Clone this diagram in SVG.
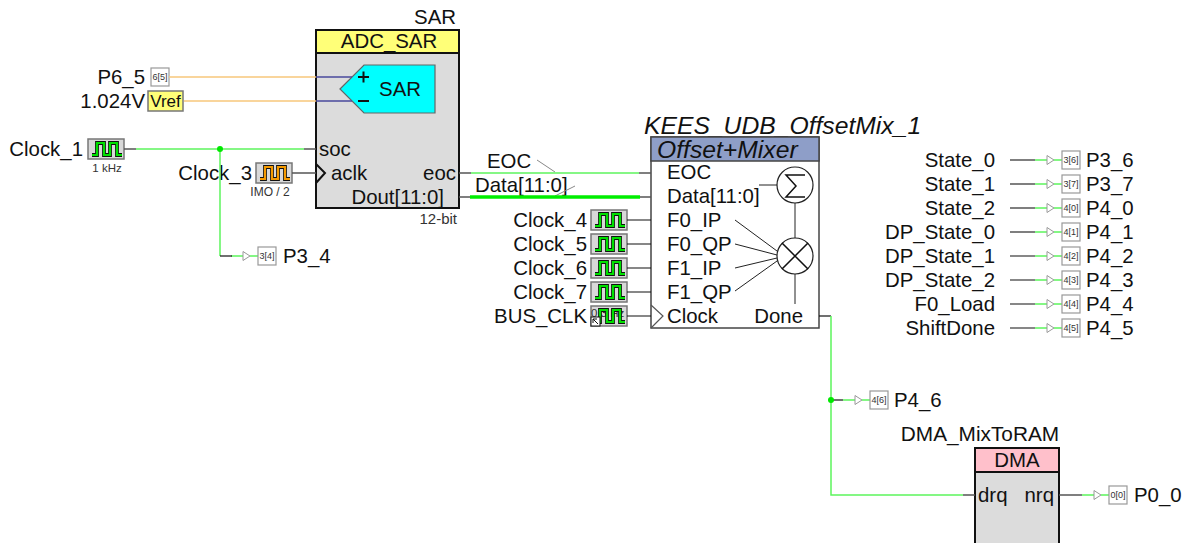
<svg xmlns="http://www.w3.org/2000/svg" width="1184" height="543" viewBox="0 0 1184 543">
<style>
text{font-family:"Liberation Sans",Arial,sans-serif;font-size:20.400px;fill:#111}
.e{text-anchor:end}.m{text-anchor:middle}
.s{fill:#333}.t{font-size:9px;fill:#333;text-anchor:middle}
.i{font-style:italic;font-size:24.700px}
.g{fill:none;stroke:#5cf55c;stroke-width:1.5}
.k{fill:none;stroke:#555;stroke-width:1.5}
.b{fill:none;stroke:#111;stroke-width:1.2}
.o{fill:none;stroke:#f8c77c;stroke-width:1.5}
.p{fill:none;stroke:#4a4a9c;stroke-width:1.5}
.blk{fill:#dcdcdc;stroke:#111;stroke-width:2}
.pin{fill:#fff;stroke:#999;stroke-width:1.2}
.tri{fill:#fff;stroke:#999;stroke-width:1}
.ck{fill:#d8d8d8;stroke:#777;stroke-width:1.5}
.w{fill:none;stroke:#111;stroke-width:3.800}
.wg{fill:none;stroke:#00e000;stroke-width:2.200}
.wo{fill:none;stroke:#f59a00;stroke-width:2.200}
</style>
<defs>
<g id="wave"><path class="w" d="M4 16H9V4H16V16H22V4H29V16H34"/><path class="wg" d="M4 16H9V4H16V16H22V4H29V16H34"/></g>
<g id="clk"><rect class="ck" x="0" y="0" width="36" height="20"/><use href="#wave"/></g>
<g id="clko"><rect class="ck" x="0" y="0" width="36" height="20"/><path class="w" d="M4 16H9V4H16V16H22V4H29V16H34"/><path class="wo" d="M4 16H9V4H16V16H22V4H29V16H34"/></g>
<g id="out"><path class="g" d="M-27 0H-15M-8 0H0"/><path class="tri" d="M-15 -4.500L-8 0L-15 4.500Z"/><rect class="pin" x="0" y="-9" width="18" height="18"/></g>
</defs>

<g id="SAR">
<text class="m" x="435" y="24">SAR</text>
<rect class="blk" x="316" y="30" width="143" height="178"/>
<rect x="316" y="30" width="143" height="23" fill="#ffff78" stroke="#111" stroke-width="2"/>
<text class="m" x="389" y="48">ADC_SAR</text>
<path d="M340 89L364 65H435V113H364Z" fill="#00ffff" stroke="#666" stroke-width="1.200"/>
<text class="m" x="400" y="96">SAR</text>
<path d="M358 77H369M363.500 71.500V82.500M358 101H369" stroke="#111" stroke-width="2" fill="none"/>
<text x="319" y="156">soc</text>
<path d="M316 164L325 173L316 183" fill="none" stroke="#111" stroke-width="2"/>
<text x="331" y="180">aclk</text>
<text class="e" x="456" y="180">eoc</text>
<text class="e" x="444" y="204">Dout[11:0]</text>
<text class="e s" x="457" y="224" style="font-size:15px">12-bit</text>
</g>

<g id="P6_5"><text class="e" x="145" y="84">P6_5</text><rect class="pin" x="151" y="68" width="18" height="18"/><text class="t" x="160" y="80">6[5]</text></g>
<g id="Vref"><text class="e" x="145" y="108">1.024V</text><rect x="148" y="91" width="35" height="20" fill="#ffff78" stroke="#777" stroke-width="1.500"/><text class="m" x="165.500" y="107" style="font-size:17px">Vref</text></g>
<g id="Clock_1"><text class="e" x="83" y="156">Clock_1</text><use href="#clk" x="88" y="139"/><text class="s m" x="107" y="172" style="font-size:11.500px">1 kHz</text></g>
<g id="Clock_3"><text class="e" x="252" y="180">Clock_3</text><use href="#clko" x="256" y="163"/><text class="s m" x="270" y="196" style="font-size:12px">IMO / 2</text></g>
<g id="P3_4"><use href="#out" x="258" y="256"/><text class="t" x="267" y="259">3[4]</text><text x="283" y="263">P3_4</text></g>

<g id="EOC"><text x="487" y="168">EOC</text><path d="M537 160L555 172" stroke="#888" fill="none"/></g>
<g id="Data"><text x="475" y="192">Data[11:0]</text><path d="M555 196L575 186" stroke="#888" fill="none"/></g>

<g id="KEES_UDB_OffsetMix_1">
<text class="i" x="644" y="134">KEES_UDB_OffsetMix_1</text>
<rect x="651" y="137" width="168" height="191" fill="#fff" stroke="#444" stroke-width="1.500"/>
<rect x="651" y="137" width="168" height="24" fill="#8e9ec8" stroke="#444" stroke-width="1.500"/>
<text class="i" x="657" y="158">Offset+Mixer</text>
<text x="667" y="179">EOC</text><text x="667" y="203">Data[11:0]</text>
<text x="667" y="227">F0_IP</text><text x="667" y="251">F0_QP</text><text x="667" y="275">F1_IP</text><text x="667" y="299">F1_QP</text>
<text x="667" y="323">Clock</text><text class="e" x="803" y="323">Done</text>
<path d="M651 305L663 316L651 328" fill="none" stroke="#555" stroke-width="1.200"/>
<circle cx="795" cy="185" r="18" fill="#fff" stroke="#222" stroke-width="1.200"/>
<circle cx="795" cy="256" r="18" fill="#fff" stroke="#222" stroke-width="1.200"/>
<path d="M805 175H786L796 186L786 197H805" fill="none" stroke="#111" stroke-width="1.500"/>
<path d="M782 243L808 269M808 243L782 269" stroke="#111" stroke-width="1.500" fill="none"/>
<path d="M759 185H777M795 203V238M795 274V304M735 220L777 251M735 244L777 255M735 268L777 258M735 291L777 261" stroke="#222" fill="none"/>
</g>

<g id="Clock_4"><text class="e" x="587" y="227">Clock_4</text><use href="#clk" x="591" y="210"/></g>
<g id="Clock_5"><text class="e" x="587" y="251">Clock_5</text><use href="#clk" x="591" y="234"/></g>
<g id="Clock_6"><text class="e" x="587" y="275">Clock_6</text><use href="#clk" x="591" y="258"/></g>
<g id="Clock_7"><text class="e" x="587" y="299">Clock_7</text><use href="#clk" x="591" y="282"/></g>
<g id="BUS_CLK"><text class="e" x="587" y="323">BUS_CLK</text><rect class="ck" x="591" y="306" width="36" height="20"/><text class="s" x="591" y="317" style="font-size:11.500px">0.3 Hz</text><use href="#wave" x="591" y="306"/><rect x="591" y="317" width="9" height="9" fill="#fff" stroke="#111"/><path d="M593 319L598 324M593 319H597M593 319V323" stroke="#111" fill="none"/></g>

<g id="P3_6"><text class="e" x="995" y="167">State_0</text><use href="#out" x="1062" y="160"/><text class="t" x="1071" y="163">3[6]</text><text x="1086" y="167">P3_6</text></g>
<g id="P3_7"><text class="e" x="995" y="191">State_1</text><use href="#out" x="1062" y="184"/><text class="t" x="1071" y="187">3[7]</text><text x="1086" y="191">P3_7</text></g>
<g id="P4_0"><text class="e" x="995" y="215">State_2</text><use href="#out" x="1062" y="208"/><text class="t" x="1071" y="211">4[0]</text><text x="1086" y="215">P4_0</text></g>
<g id="P4_1"><text class="e" x="995" y="239">DP_State_0</text><use href="#out" x="1062" y="232"/><text class="t" x="1071" y="235">4[1]</text><text x="1086" y="239">P4_1</text></g>
<g id="P4_2"><text class="e" x="995" y="263">DP_State_1</text><use href="#out" x="1062" y="256"/><text class="t" x="1071" y="259">4[2]</text><text x="1086" y="263">P4_2</text></g>
<g id="P4_3"><text class="e" x="995" y="287">DP_State_2</text><use href="#out" x="1062" y="280"/><text class="t" x="1071" y="283">4[3]</text><text x="1086" y="287">P4_3</text></g>
<g id="P4_4"><text class="e" x="995" y="311">F0_Load</text><use href="#out" x="1062" y="304"/><text class="t" x="1071" y="307">4[4]</text><text x="1086" y="311">P4_4</text></g>
<g id="P4_5"><text class="e" x="995" y="335">ShiftDone</text><use href="#out" x="1062" y="328"/><text class="t" x="1071" y="331">4[5]</text><text x="1086" y="335">P4_5</text></g>

<g id="P4_6"><use href="#out" x="870" y="400"/><text class="t" x="879" y="403">4[6]</text><text x="894" y="407">P4_6</text></g>

<g id="DMA_MixToRAM">
<text class="m" x="980" y="441" style="font-size:20.800px">DMA_MixToRAM</text>
<rect class="blk" x="975" y="448" width="84" height="105"/>
<rect x="975" y="448" width="84" height="24" fill="#ffc0cb" stroke="#111" stroke-width="2"/>
<text class="m" x="1017" y="467">DMA</text>
<text x="978" y="502">drq</text><text class="e" x="1054" y="502">nrq</text>
</g>
<g id="P0_0"><use href="#out" x="1109" y="495"/><text class="t" x="1118" y="498">0[0]</text><text x="1134" y="502">P0_0</text></g>

<g id="connectors">
<path class="o" d="M169 77H316M184 101H316"/>
<path class="p" d="M316 77H352M316 101H352"/>
<path class="k" d="M124 149H136"/><path class="g" d="M136 149H304"/><path class="k" d="M304 149H316"/>
<path class="g" d="M220 149V256"/><path class="b" d="M220 256H232"/>
<path class="k" d="M292 173H316"/>
<path class="k" d="M459 173H471M459 197H471"/><path class="g" d="M471 173H639"/><path d="M470 197H640" fill="none" stroke="#00ee00" stroke-width="3.500"/>
<path class="k" d="M639 173H651M640 197H651"/>
<path class="b" d="M627 220H651M627 244H651M627 268H651M627 292H651M627 316H651"/>
<path class="b" d="M819 316H831"/><path class="g" d="M831 316V495H963"/><path class="k" d="M963 495H975"/>
<path class="b" d="M831 400H843"/>
<path class="k" d="M1059 495H1082"/>
<path class="k" d="M1010 160H1035M1010 184H1035M1010 208H1035M1010 232H1035"/>
<path class="b" d="M1010 256H1035M1010 280H1035M1010 304H1035M1010 328H1035"/>
<circle cx="220" cy="149" r="3" fill="#00e800"/><circle cx="831" cy="400" r="3" fill="#00e800"/>
</g>
</svg>
